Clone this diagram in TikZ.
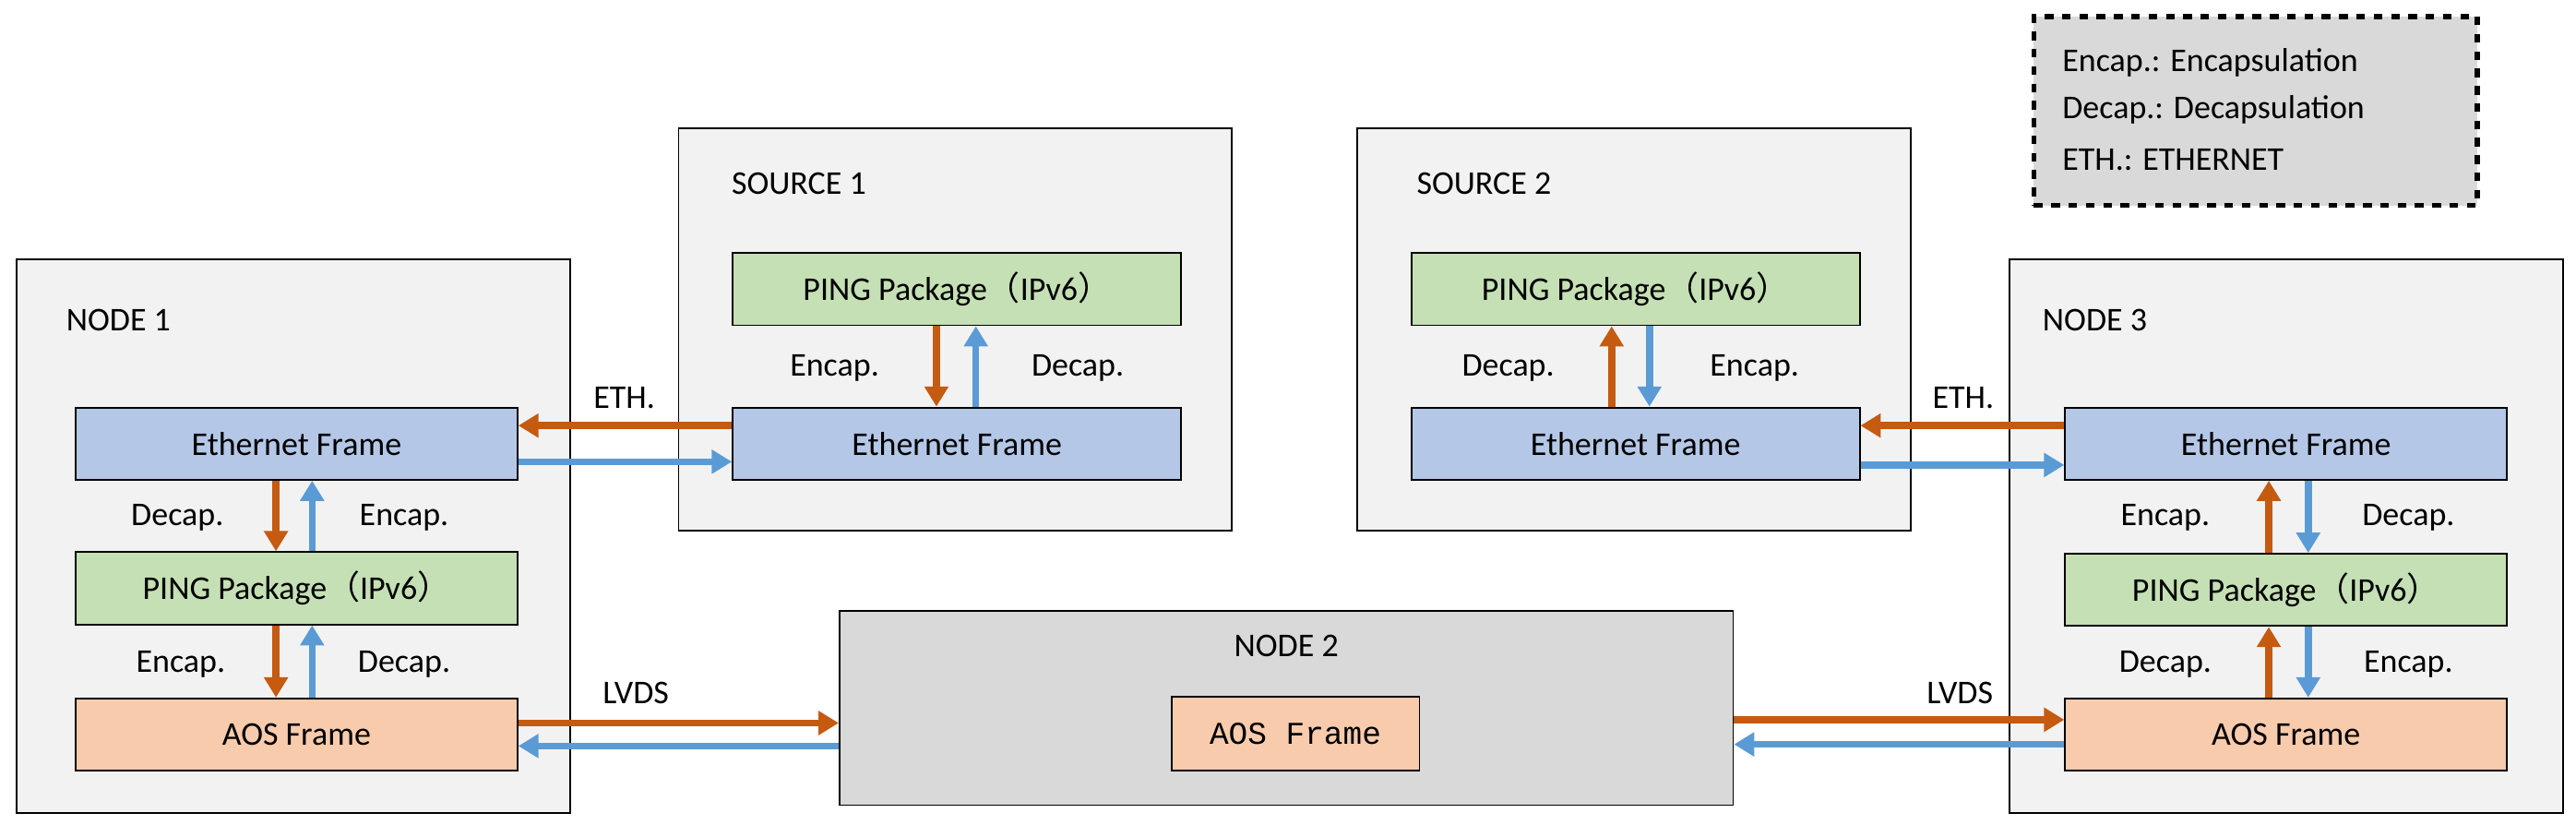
\documentclass[tikz,border=0pt]{standalone}
\usepackage{fontspec}
\setmainfont{Carlito}
\newfontfamily\aosfont{Liberation Mono}
\newfontfamily\cjk{Noto Sans CJK SC}
\usetikzlibrary{positioning}
\usetikzlibrary{arrows.meta}
\definecolor{ethc}{HTML}{B4C7E7}
\definecolor{pingc}{HTML}{C5E0B4}
\definecolor{aosc}{HTML}{F8CBAD}
\definecolor{downc}{HTML}{C55A11}
\definecolor{upc}{HTML}{5B9BD5}
\definecolor{panelc}{HTML}{F2F2F2}
\definecolor{darkc}{HTML}{D9D9D9}
\newcommand{\pingtext}{PING Package{\cjk （}IPv6{\cjk ）}}

\begin{document}
\begin{tikzpicture}[x=0.02cm,y=-0.02cm,font=\fontsize{11.5}{14}\selectfont,
        panel/.style={draw,fill=panelc,line width=0.6pt},
        layer/.style={draw,line width=0.6pt,minimum width=5.38cm,minimum height=0.88cm,inner sep=0pt},
        flow/.style={line width=2.4pt,-{Triangle[length=7pt,width=8pt]}},
        lbl/.style={anchor=west,inner sep=0pt}]
        \useasboundingbox (0,0) rectangle (1568,509);

        % node 1
        \node[panel,minimum width=6.74cm,minimum height=6.74cm] (node1) at (178.5,326.5) {};
        \node[lbl] (node1t) at (40,195) {NODE 1};
        \node[layer,fill=ethc] (n1eth) at (180.5,270) {Ethernet Frame};
        \node[layer,fill=pingc] (n1ping) at (180.5,358) {\pingtext};
        \node[layer,fill=aosc] (n1aos) at (180.5,447) {AOS Frame};

        % source 1
        \node[panel,minimum width=6.74cm,minimum height=4.9cm] (src1) at (581.5,200.5) {};
        \node[lbl] (src1t) at (445,112) {SOURCE 1};
        \node[layer,fill=pingc,minimum width=5.46cm] (s1ping) at (582.5,176) {\pingtext};
        \node[layer,fill=ethc,minimum width=5.46cm] (s1eth) at (582.5,270) {Ethernet Frame};

        % source 2
        \node[panel,minimum width=6.74cm,minimum height=4.9cm] (src2) at (994.5,200.5) {};
        \node[lbl] (src2t) at (862,112) {SOURCE 2};
        \node[layer,fill=pingc,minimum width=5.46cm] (s2ping) at (995.5,176) {\pingtext};
        \node[layer,fill=ethc,minimum width=5.46cm] (s2eth) at (995.5,270) {Ethernet Frame};

        % node 3
        \node[panel,minimum width=6.74cm,minimum height=6.74cm] (node3) at (1391.5,326.5) {};
        \node[lbl] (node3t) at (1243,195) {NODE 3};
        \node[layer,fill=ethc] (n3eth) at (1391.5,270) {Ethernet Frame};
        \node[layer,fill=pingc] (n3ping) at (1391.5,359) {\pingtext};
        \node[layer,fill=aosc] (n3aos) at (1391.5,447) {AOS Frame};

        % node 2
        \node[draw,fill=darkc,line width=0.6pt,minimum width=10.88cm,minimum height=2.36cm] (node2) at (783,431) {};
        \node (node2t) at (783,393) {NODE 2};
        \node[draw,fill=aosc,line width=0.6pt,minimum width=3.02cm,minimum height=0.9cm,font=\aosfont\fontsize{11}{13}\selectfont] (n2aos) at (788.5,446.5) {AOS Frame};

        % legend
        \node[draw,fill=darkc,dashed,line width=1.8pt,minimum width=5.4cm,minimum height=2.3cm] (legend) at (1373,67.5) {};
        \node[lbl] (leg1) at (1255,38) {Encap.: Encapsulation};
        \node[lbl] (leg2) at (1255,67) {Decap.: Decapsulation};
        \node[lbl] (leg3) at (1255,97) {ETH.: ETHERNET};

        % node 1 stack
        \draw[flow,downc] (n1eth.south -| 168,0) -- (n1ping.north -| 168,0);
        \draw[flow,upc] (n1ping.north -| 190,0) -- (n1eth.south -| 190,0);
        \draw[flow,downc] (n1ping.south -| 168,0) -- (n1aos.north -| 168,0);
        \draw[flow,upc] (n1aos.north -| 190,0) -- (n1ping.south -| 190,0);
        \node (d1) at (108,315) {Decap.};
        \node (e1) at (246,315) {Encap.};
        \node (e2) at (110,404) {Encap.};
        \node (d2) at (246,404) {Decap.};

        % source 1 stack
        \draw[flow,downc] (s1ping.south -| 570,0) -- (s1eth.north -| 570,0);
        \draw[flow,upc] (s1eth.north -| 594,0) -- (s1ping.south -| 594,0);
        \node (e3) at (508,224) {Encap.};
        \node (d3) at (656,224) {Decap.};

        % source 2 stack
        \draw[flow,downc] (s2eth.north -| 981,0) -- (s2ping.south -| 981,0);
        \draw[flow,upc] (s2ping.south -| 1004,0) -- (s2eth.north -| 1004,0);
        \node (d4) at (918,224) {Decap.};
        \node (e4) at (1068,224) {Encap.};

        % node 3 stack
        \draw[flow,downc] (n3ping.north -| 1381,0) -- (n3eth.south -| 1381,0);
        \draw[flow,upc] (n3eth.south -| 1405,0) -- (n3ping.north -| 1405,0);
        \draw[flow,downc] (n3aos.north -| 1381,0) -- (n3ping.south -| 1381,0);
        \draw[flow,upc] (n3ping.south -| 1405,0) -- (n3aos.north -| 1405,0);
        \node (e5) at (1318,315) {Encap.};
        \node (d5) at (1466,315) {Decap.};
        \node (d6) at (1318,404) {Decap.};
        \node (e6) at (1466,404) {Encap.};

        % links
        \draw[flow,downc] (s1eth.west |- 0,259) -- (n1eth.east |- 0,259);
        \draw[flow,upc] (n1eth.east |- 0,281) -- (s1eth.west |- 0,281);
        \node (eth1) at (380,242) {ETH.};
        \draw[flow,downc] (n3eth.west |- 0,259) -- (s2eth.east |- 0,259);
        \draw[flow,upc] (s2eth.east |- 0,283) -- (n3eth.west |- 0,283);
        \node (eth2) at (1195,242) {ETH.};
        \draw[flow,downc] (n1aos.east |- 0,440) -- (node2.west |- 0,440);
        \draw[flow,upc] (node2.west |- 0,454) -- (n1aos.east |- 0,454);
        \node (lvds1) at (387,422) {LVDS};
        \draw[flow,downc] (node2.east |- 0,438) -- (n3aos.west |- 0,438);
        \draw[flow,upc] (n3aos.west |- 0,453) -- (node2.east |- 0,453);
        \node (lvds2) at (1193,422) {LVDS};
\end{tikzpicture}
\end{document}
